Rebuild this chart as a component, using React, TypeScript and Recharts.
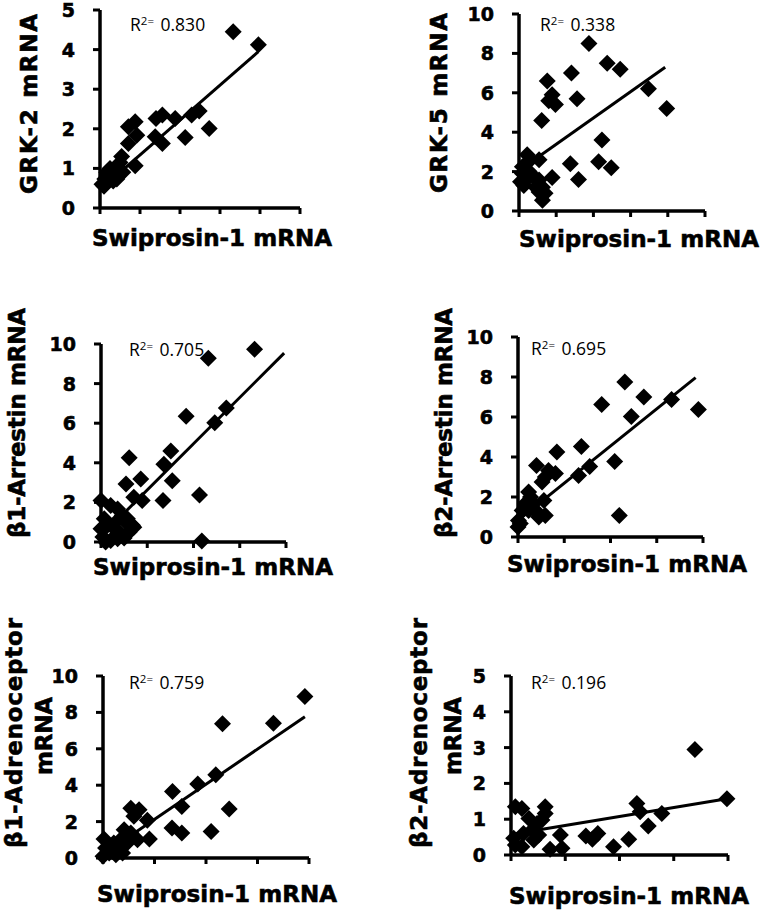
import React from "react";
import { ReferenceLine, Scatter, ScatterChart, XAxis, YAxis } from "recharts";

// Swiprosin-1 (x) vs target mRNA (y)
const grk2Swip = [3.33, 3.96, 2.73, 2.48, 2.29, 2.13, 1.88, 1.56, 1.4, 1.56, 1.38, 0.88, 0.71, 0.92, 0.71, 0.88, 0.54, 0.5, 0.45, 0.57, 0.33, 0.25, 0.17, 0.12, 0.05, 0.33, 0.42, 0.2, 0.1, 0.45];
const grk2Vals = [4.45, 4.12, 2.01, 2.45, 2.35, 1.78, 2.26, 2.35, 2.26, 1.63, 1.8, 2.18, 2.05, 1.84, 1.63, 1.07, 1.3, 1.15, 0.98, 0.9, 0.9, 1.0, 0.9, 0.73, 0.6, 0.68, 0.73, 0.7, 0.55, 0.8];

const grk5Swip = [1.88, 2.37, 2.72, 1.41, 0.76, 0.89, 0.8, 0.98, 1.56, 0.61, 3.48, 3.97, 2.23, 1.38, 2.14, 2.48, 1.6, 0.89, 0.63, 0.7, 0.22, 0.31, 0.54, 0.09, 0.09, 0.18, 0.27, 0.4, 0.54, 0.04, 0.13, 0.45, 0.54, 0.63];
const grk5Vals = [8.5, 7.5, 7.2, 7.0, 6.6, 5.9, 5.6, 5.4, 5.7, 4.6, 6.2, 5.2, 3.6, 2.4, 2.5, 2.2, 1.6, 1.7, 0.55, 0.9, 2.85, 2.6, 2.6, 2.25, 1.9, 1.55, 2.0, 1.74, 1.57, 1.48, 1.3, 1.2, 0.97, 1.2];

const arr1Swip = [3.32, 2.32, 2.71, 2.46, 1.84, 1.51, 1.36, 1.54, 1.34, 2.13, 2.18, 0.61, 0.54, 0.86, 0.71, 0.89, 0.71, 0.0, 0.21, 0.36, 0.46, 0.57, 0.07, 0.14, 0.29, 0.43, 0.04, 0.21, 0.36, 0.5, 0.61, 0.0, 0.1, 0.54, 0.68, 0.32];
const arr1Vals = [9.73, 9.28, 6.77, 6.02, 6.35, 4.6, 3.93, 3.09, 2.09, 2.37, 0.05, 4.26, 2.93, 3.18, 2.26, 2.09, 0.75, 2.09, 1.84, 1.67, 1.34, 1.17, 1.17, 0.84, 0.67, 0.42, 0.25, 0.08, 0.17, 0.2, 0.5, 0.67, 0.0, 1.0, 0.84, 1.0];

const arr2Swip = [2.31, 2.72, 3.32, 3.9, 2.45, 1.81, 1.37, 1.55, 1.31, 2.09, 2.19, 0.84, 0.4, 0.66, 0.81, 0.52, 0.59, 0.23, 0.56, 0.38, 0.59, 0.45, 0.16, 0.09, 0.01, 0.0, 0.05, 0.23, 0.34, 0.27];
const arr2Vals = [7.75, 7.0, 6.87, 6.38, 6.03, 6.63, 4.53, 3.53, 3.08, 3.78, 1.08, 4.25, 3.58, 3.33, 3.17, 2.75, 3.0, 2.25, 1.83, 1.33, 1.08, 1.0, 1.67, 1.33, 0.83, 0.5, 0.67, 1.33, 1.67, 2.0];

const adr1Swip = [3.92, 3.31, 2.32, 2.19, 1.84, 1.35, 1.53, 2.45, 2.1, 1.34, 1.53, 0.86, 0.9, 0.54, 0.7, 0.6, 0.41, 0.54, 0.67, 0.47, 0.31, 0.18, 0.02, 0.05, 0.12, 0.25, 0.38, 0.0, 0.21, 0.34, 0.44];
const adr1Vals = [8.87, 7.4, 7.37, 4.57, 4.06, 3.66, 2.83, 2.69, 1.46, 1.65, 1.37, 2.07, 1.04, 2.74, 2.65, 2.29, 1.55, 1.37, 1.0, 0.82, 0.64, 0.37, 1.04, 0.55, 0.27, 0.18, 0.27, 0.09, 0.82, 1.0, 1.19];

const adr2Swip = [3.39, 3.98, 2.78, 2.53, 2.32, 2.38, 2.17, 1.89, 1.6, 1.5, 1.38, 0.91, 0.94, 0.72, 0.63, 0.63, 0.57, 0.48, 0.39, 0.2, 0.08, 0.05, 0.08, 0.2, 0.33, 0.42, 0.23, 0.51];
const adr2Vals = [2.95, 1.57, 1.16, 0.81, 1.44, 1.21, 0.44, 0.23, 0.6, 0.44, 0.53, 0.56, 0.19, 0.16, 1.35, 1.16, 0.98, 0.88, 0.7, 1.3, 1.35, 0.47, 0.28, 0.23, 1.02, 0.42, 0.6, 0.56];

// trend lines: [x start, y start, x end, y end]
const grk2Trend = [0.05, 0.5, 3.95, 3.94];
const grk5Trend = [0.05, 2.12, 3.93, 7.3];
const arr1Trend = [0.05, 0.41, 3.96, 9.54];
const arr2Trend = [0.02, 0.87, 3.84, 7.97];
const adr1Trend = [0.02, 0.23, 3.92, 7.76];
const adr2Trend = [0.02, 0.58, 3.98, 1.57];

const rSquared = ["0.830", "0.338", "0.705", "0.695", "0.759", "0.196"];

const ticks5 = [0, 1, 2, 3, 4, 5];
const ticks10 = [0, 2, 4, 6, 8, 10];
const xTicks5 = [0, 1, 2, 3, 4, 5];
const xTicks4 = [0, 1, 2, 3, 4];

const xTitle = "Swiprosin-1 mRNA";

const Y_W = 70;
const PAD = 12;
const X_H = 12;

const Diamond = (props: any) => {
  const { cx, cy } = props;
  if (cx == null || cy == null) return null;
  const r = 8.5;
  return (
    <path
      d={`M${cx},${cy - r}L${cx + r},${cy}L${cx},${cy + r}L${cx - r},${cy}Z`}
      fill="#000"
    />
  );
};

const YTick = (props: any) => {
  const { x, y, payload } = props;
  return (
    <text
      x={x}
      y={y}
      dy={7}
      textAnchor="end"
      fill="#000"
      stroke="#000"
      strokeWidth={0.6}
      fontSize={19}
      fontWeight={700}
      fontFamily="DejaVu Sans"
    >
      {payload.value}
    </text>
  );
};

interface Box {
  left: number;
  top: number;
  right: number;
  bottom: number;
}

interface PanelProps {
  xs: number[];
  ys: number[];
  trend: number[];
  box: Box;
  xTicks: number[];
  yTicks: number[];
}

function Panel({ xs, ys, trend, box, xTicks, yTicks }: PanelProps) {
  const data = xs.map((x, i) => ({ x, y: ys[i] }));
  const w = box.right - box.left + Y_W + PAD;
  const h = box.bottom - box.top + PAD + X_H;
  const xMax = xTicks[xTicks.length - 1];
  const yMax = yTicks[yTicks.length - 1];
  return (
    <div style={{ position: "absolute", left: box.left - Y_W, top: box.top - PAD }}>
      <ScatterChart width={w} height={h} margin={{ top: PAD, right: PAD, bottom: 0, left: 0 }}>
        <XAxis
          type="number"
          dataKey="x"
          domain={[0, xMax]}
          ticks={xTicks}
          interval={0}
          tickFormatter={() => ""}
          axisLine={{ stroke: "#000", strokeWidth: 3.5 }}
          tickLine={{ stroke: "#000", strokeWidth: 3 }}
          tickSize={6}
          height={X_H}
        />
        <YAxis
          type="number"
          dataKey="y"
          domain={[0, yMax]}
          ticks={yTicks}
          interval={0}
          width={Y_W}
          axisLine={{ stroke: "#000", strokeWidth: 3.5 }}
          tickLine={{ stroke: "#000", strokeWidth: 3 }}
          tickSize={7}
          tickMargin={18}
          tick={YTick}
        />
        <ReferenceLine
          segment={[
            { x: trend[0], y: trend[1] },
            { x: trend[2], y: trend[3] },
          ]}
          stroke="#000"
          strokeWidth={3}
          ifOverflow="visible"
        />
        <Scatter data={data} shape={Diamond} isAnimationActive={false} />
      </ScatterChart>
    </div>
  );
}

const bold = {
  fontFamily: "DejaVu Sans",
  fontWeight: 700,
  fontSize: 23,
  fill: "#000",
  stroke: "#000",
  strokeWidth: 0.6,
};
const rStyle = { fontFamily: "Open Sans", fontSize: 17.5, fill: "#000" };

const YLabel = ({ x, y, text, len }: { x: number; y: number; text: string; len: number }) => (
  <text
    transform={`translate(${x},${y}) rotate(-90)`}
    textAnchor="middle"
    textLength={len}
    {...bold}
  >
    {text}
  </text>
);

const XLabel = ({ x, y }: { x: number; y: number }) => (
  <text x={x} y={y} textAnchor="middle" textLength={240} {...bold}>
    {xTitle}
  </text>
);

const R2 = ({ x, y, v }: { x: number; y: number; v: string }) => (
  <text x={x} y={y} {...rStyle}>
    R
    <tspan fontSize={11.5} dy={-6}>2=</tspan>
    <tspan dy={6} dx={2}>{" " + v}</tspan>
  </text>
);

export default function App() {
  return (
    <div style={{ position: "absolute", left: 0, top: 0, width: 764, height: 914, background: "#fff" }}>
      <Panel xs={grk2Swip} ys={grk2Vals} trend={grk2Trend} box={{ left: 100, top: 10, right: 300, bottom: 208 }} xTicks={xTicks5} yTicks={ticks5} />
      <Panel xs={grk5Swip} ys={grk5Vals} trend={grk5Trend} box={{ left: 519, top: 14, right: 705, bottom: 211 }} xTicks={xTicks5} yTicks={ticks10} />
      <Panel xs={arr1Swip} ys={arr1Vals} trend={arr1Trend} box={{ left: 101, top: 344, right: 286, bottom: 542 }} xTicks={xTicks4} yTicks={ticks10} />
      <Panel xs={arr2Swip} ys={arr2Vals} trend={arr2Trend} box={{ left: 518, top: 337, right: 703, bottom: 537 }} xTicks={xTicks4} yTicks={ticks10} />
      <Panel xs={adr1Swip} ys={adr1Vals} trend={adr1Trend} box={{ left: 103, top: 676, right: 309, bottom: 858 }} xTicks={xTicks4} yTicks={ticks10} />
      <Panel xs={adr2Swip} ys={adr2Vals} trend={adr2Trend} box={{ left: 511, top: 676, right: 728, bottom: 855 }} xTicks={xTicks4} yTicks={ticks5} />
      <svg
        width={764}
        height={914}
        style={{ position: "absolute", left: 0, top: 0, pointerEvents: "none" }}
      >
        <YLabel x={37} y={104} text="GRK-2 mRNA" len={180} />
        <YLabel x={447} y={103} text="GRK-5 mRNA" len={180} />
        <YLabel x={25} y={423} text="β1-Arrestin mRNA" len={230} />
        <YLabel x={452} y={423} text="β2-Arrestin mRNA" len={230} />
        <YLabel x={22} y={733} text="β1-Adrenoceptor" len={230} />
        <YLabel x={52} y={736} text="mRNA" len={78} />
        <YLabel x={427} y={733} text="β2-Adrenoceptor" len={230} />
        <YLabel x={461} y={736} text="mRNA" len={78} />
        <XLabel x={212} y={246} />
        <XLabel x={639} y={247} />
        <XLabel x={213} y={575} />
        <XLabel x={627} y={572} />
        <XLabel x={217} y={902} />
        <XLabel x={629} y={904} />
        <R2 x={130} y={31} v={rSquared[0]} />
        <R2 x={540} y={31} v={rSquared[1]} />
        <R2 x={129} y={356} v={rSquared[2]} />
        <R2 x={531} y={355} v={rSquared[3]} />
        <R2 x={129} y={689} v={rSquared[4]} />
        <R2 x={531} y={689} v={rSquared[5]} />
      </svg>
    </div>
  );
}
